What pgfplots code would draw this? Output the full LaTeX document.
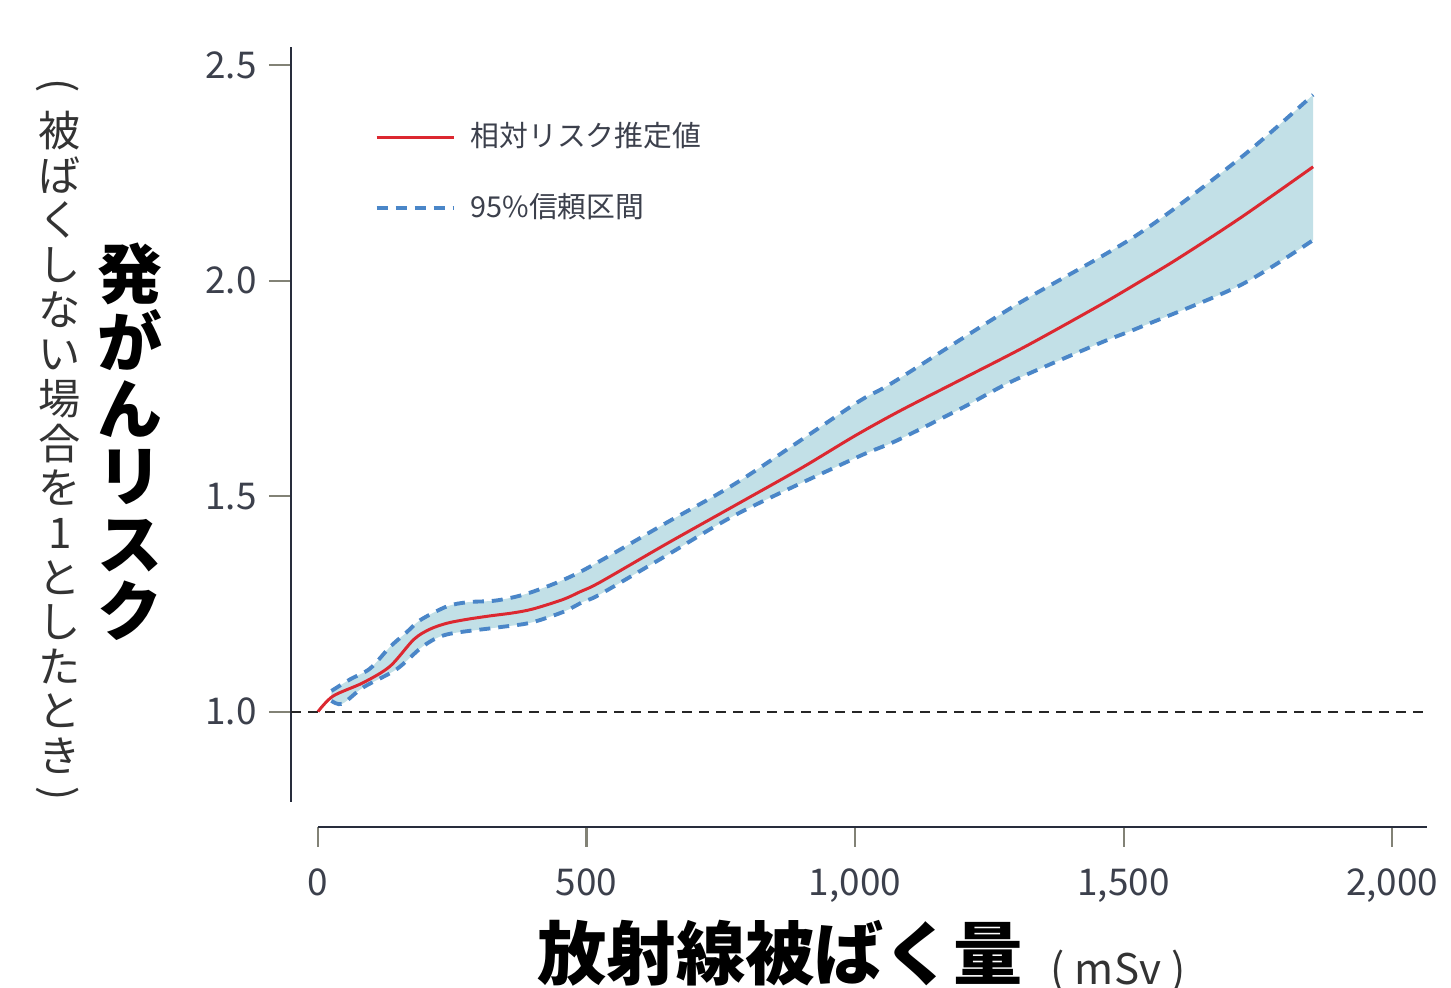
\documentclass[border=0pt]{standalone}
\usepackage{pgfplots}
\usepackage{pgfplotstable}
\pgfplotsset{compat=1.18}
\usepgfplotslibrary{fillbetween}
\usepackage{fontspec}
\setmainfont{Noto Sans CJK JP}
\definecolor{redline}{RGB}{220,40,48}
\definecolor{blueline}{RGB}{74,134,200}
\definecolor{bandfill}{RGB}{194,224,231}
\definecolor{ticktext}{RGB}{60,64,76}
\definecolor{axisline}{RGB}{40,45,60}
\definecolor{tickmark}{RGB}{130,130,118}

\pgfplotstableread{
x y
0 1.000
28 1.036
84 1.067
134 1.105
178 1.167
208 1.191
240 1.205
277 1.214
320 1.222
363 1.229
400 1.238
456 1.260
488 1.278
525 1.300
650 1.390
786 1.485
900 1.565
1000 1.640
1084 1.698
1200 1.772
1320 1.849
1456 1.943
1531 1.998
1600 2.050
1717 2.145
1853 2.264
}\esttab

\pgfplotstableread{
x y
25 1.048
60 1.075
97 1.100
134 1.150
165 1.184
190 1.212
240 1.244
280 1.254
333 1.258
395 1.276
488 1.324
650 1.439
786 1.536
1000 1.714
1071 1.764
1295 1.940
1524 2.105
1717 2.284
1853 2.431
}\uptab

\pgfplotstableread{
x y
25 1.025
45 1.018
84 1.056
146 1.098
196 1.152
240 1.179
333 1.195
395 1.206
456 1.231
494 1.255
525 1.272
650 1.363
786 1.462
1000 1.588
1078 1.629
1200 1.705
1295 1.768
1456 1.855
1531 1.892
1717 1.989
1853 2.094
}\lowtab

\begin{document}
\begin{tikzpicture}
\begin{axis}[
  scale only axis, width=113.6mm, height=75.47mm,
  at={(29.1mm,18.63mm)}, anchor=south west,
  xmin=-50.3, xmax=2065, ymin=0.791, ymax=2.542,
  axis x line=none, axis y line*=left,
  axis line style={axisline, line width=0.6pt},
  ytick={1,1.5,2,2.5},
  /pgf/number format/assume math mode=true,
  yticklabel style={/pgf/number format/.cd, fixed, fixed zerofill, precision=1},
  tick label style={font=\fontsize{10.5}{12}\selectfont, text=ticktext},
  major tick length=2.2mm, tick align=outside,
  tick style={tickmark, line width=0.6pt},
  legend style={draw=none, fill=none, at={(axis cs:104.3,2.368)}, anchor=north west,
    font=\fontsize{8.2}{10}\selectfont, text=ticktext, row sep=4.1mm, column sep=1.5mm,
    inner sep=0pt, nodes={inner sep=0pt}},
  legend cell align=left,
  legend image code/.code={\draw[#1] (0mm,0mm) -- (7.7mm,0mm);},
]
\addplot[name path=U, draw=none, forget plot, smooth] table {\uptab};
\addplot[name path=L, draw=none, forget plot, smooth] table {\lowtab};
\addplot[bandfill, forget plot] fill between[of=U and L];
\addplot[black!85, line width=0.6pt, dash pattern=on 1mm off 0.7mm, forget plot] coordinates {(-50.3,1) (2060,1)};
\addplot[redline, line width=0.85pt, smooth] table {\esttab};
\addplot[blueline, line width=1.1pt, dash pattern=on 1.1mm off 0.8mm, smooth] table {\uptab};
\addplot[blueline, line width=1.1pt, dash pattern=on 1.1mm off 0.8mm, smooth, forget plot] table {\lowtab};
\legend{相対リスク推定値, 95\%信頼区間}
\end{axis}

\begin{axis}[
  scale only axis, width=110.9mm, height=5mm,
  at={(31.8mm,16.13mm)}, anchor=south west,
  xmin=0, xmax=2065, ymin=0, ymax=1,
  axis y line=none, axis x line*=bottom,
  axis line style={axisline, line width=0.6pt},
  xtick={0,500,1000,1500,2000},
  scaled x ticks=false,
  /pgf/number format/assume math mode=true,
  xticklabel style={/pgf/number format/.cd, 1000 sep={,}},
  xticklabel shift=1mm,
  tick label style={font=\fontsize{10.5}{12}\selectfont, text=ticktext},
  major tick length=2mm, tick align=outside,
  tick style={tickmark, line width=0.6pt},
]
\addplot[draw=none] coordinates {(0,0) (2000,1)};
\end{axis}

\node[font=\fontsize{18.5}{19.2}\selectfont\bfseries, align=center, inner sep=0pt] at (13mm,54.6mm)
  {発\\が\\ん\\リ\\ス\\ク};
\node[font=\fontsize{12}{12.7}\selectfont, text=black!80, align=center, inner sep=0pt] at (6mm,54.55mm)
  {被\\ば\\く\\し\\な\\い\\場\\合\\を\\1\\と\\し\\た\\と\\き};
\node[font=\fontsize{12}{12.7}\selectfont, text=black!80, rotate=-90, inner sep=0pt] at (5.8mm,90.2mm) {(};
\node[font=\fontsize{12}{12.7}\selectfont, text=black!80, rotate=-90, inner sep=0pt] at (5.8mm,19.4mm) {)};
\node[font=\fontsize{19.7}{21}\selectfont\bfseries, anchor=base, inner sep=0pt] at (78mm,0.8mm) {放射線被ばく量};
\node[font=\fontsize{12}{13}\selectfont, text=black!80, anchor=base west, inner sep=0pt] at (105mm,0.3mm) {(\hspace{1mm}mSv\hspace{1mm})};

\pgfresetboundingbox
\path[use as bounding box] (0,0) rectangle (145.1mm,98.8mm);
\end{tikzpicture}
\end{document}
